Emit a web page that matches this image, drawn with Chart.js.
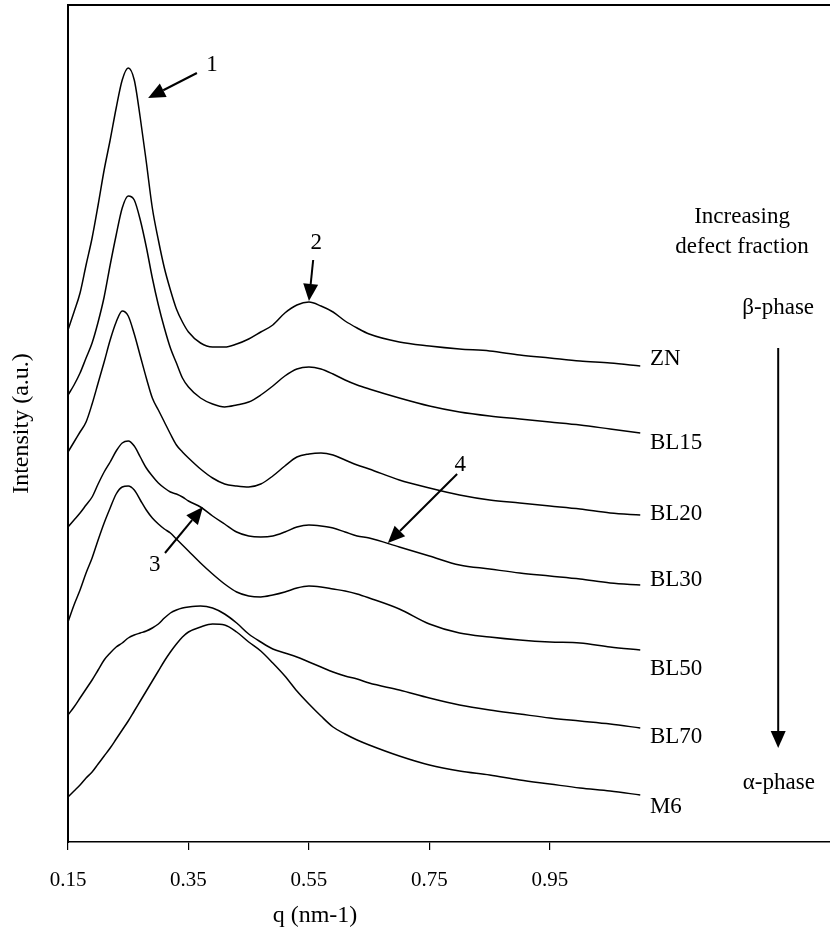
<!DOCTYPE html>
<html>
<head>
<meta charset="utf-8">
<script src="https://cdn.jsdelivr.net/npm/chart.js@4.4.1/dist/chart.umd.min.js"></script>
<style>
    html, body { margin: 0; padding: 0; background: #fff; }
    #wrap { width: 830px; height: 928px; }
</style>
</head>
<body>
<div id="wrap"><canvas id="saxs" width="830" height="928"></canvas></div>
<script>
// scattering vector q (nm-1), shared by every curve
const qValues = [
    0.15, 0.16, 0.17, 0.18, 0.19, 0.20, 0.21, 0.22, 0.23, 0.24,
    0.25, 0.26, 0.27, 0.28, 0.29, 0.30, 0.31, 0.32, 0.33, 0.34,
    0.35, 0.37, 0.39, 0.41, 0.43, 0.45, 0.47, 0.49, 0.51, 0.53,
    0.55, 0.57, 0.59, 0.61, 0.63, 0.65, 0.70, 0.75, 0.80, 0.85,
    0.90, 0.95, 1.00, 1.05, 1.10,
];

// intensities (a.u.), already shifted vertically as in the figure
const znIntensity = [
    512, 530, 549, 577, 604, 637, 672, 702, 734, 762,
    774, 762, 724, 680, 634, 602, 574, 552, 533, 520,
    510, 499, 495, 495, 498, 503, 510, 517, 529, 537,
    540, 536, 530, 521, 514, 508, 500, 496, 493, 491,
    487, 484, 481, 479, 476,
];
const bl15Intensity = [
    447, 457, 469, 484, 499, 520, 545, 577, 607, 634,
    646, 642, 622, 595, 564, 537, 514, 494, 479, 464,
    455, 444, 438, 435, 437, 440, 447, 456, 466, 473,
    475, 473, 468, 462, 457, 453, 444, 436, 430, 426,
    423, 420, 417, 413, 409,
];
const bl20Intensity = [
    390, 400, 410, 420, 438, 459, 480, 502, 520, 531,
    526, 508, 486, 464, 444, 432, 420, 408, 397, 390,
    384, 373, 364, 358, 356, 355, 358, 366, 376, 385,
    388, 389, 387, 382, 377, 373, 362, 354, 347, 342,
    339, 336, 333, 329, 327,
];
const bl30Intensity = [
    315, 322, 329, 337, 345, 358, 370, 380, 391, 399,
    401, 396, 385, 374, 366, 359, 354, 350, 348, 345,
    341, 335, 326, 318, 310, 306, 305, 306, 310, 315,
    317, 316, 314, 310, 306, 304, 295, 286, 277, 273,
    269, 266, 263, 259, 257,
];
const bl50Intensity = [
    220, 237, 252, 269, 284, 302, 319, 334, 348, 355,
    356, 352, 342, 332, 324, 318, 313, 309, 303, 297,
    291, 279, 268, 258, 250, 246, 245, 247, 250, 254,
    256, 255, 253, 251, 248, 244, 233, 218, 209, 205,
    202, 200, 199, 195, 192,
];
const bl70Intensity = [
    127, 135, 144, 153, 162, 172, 182, 189, 195, 199,
    204, 207, 209, 211, 214, 218, 224, 229, 232, 234,
    235, 236, 234, 228, 219, 208, 200, 193, 189, 185,
    180, 175, 170, 166, 163, 159, 152, 144, 137, 132,
    128, 124, 121, 118, 114,
];
const m6Intensity = [
    45, 51, 57, 64, 70, 78, 86, 94, 103, 112,
    121, 131, 141, 151, 161, 171, 181, 190, 198, 205,
    210, 215, 218, 217, 210, 200, 191, 179, 166, 151,
    138, 126, 115, 108, 102, 97, 86, 77, 71, 67,
    62, 58, 54, 51, 47,
];

const sampleNames = ['ZN', 'BL15', 'BL20', 'BL30', 'BL50', 'BL70', 'M6'];
const sampleSeries = [znIntensity, bl15Intensity, bl20Intensity, bl30Intensity,
    bl50Intensity, bl70Intensity, m6Intensity];
const xTickValues = [0.15, 0.35, 0.55, 0.75, 0.95];

const FONT = '"Liberation Serif", "Times New Roman", serif';

// labels and arrows drawn on top, placed in data units (q, intensity)
const curveLabels = [
    { text: 'ZN', q: 1.116, y: 483 },
    { text: 'BL15', q: 1.116, y: 399 },
    { text: 'BL20', q: 1.116, y: 328 },
    { text: 'BL30', q: 1.116, y: 262 },
    { text: 'BL50', q: 1.116, y: 173 },
    { text: 'BL70', q: 1.116, y: 105 },
    { text: 'M6', q: 1.116, y: 35 },
];
const noteTexts = [
    { text: '1', q: 0.389, y: 777 },
    { text: '2', q: 0.562, y: 599 },
    { text: '3', q: 0.294, y: 277 },
    { text: '4', q: 0.801, y: 377 },
    { text: 'Increasing', q: 1.269, y: 625 },
    { text: 'defect fraction', q: 1.269, y: 595 },
    { text: '\u03b2-phase', q: 1.329, y: 534 },
    { text: '\u03b1-phase', q: 1.330, y: 59 },
];
const noteArrows = [
    { from: [0.364, 769], to: [0.283, 744] },
    { from: [0.557, 582], to: [0.550, 541] },
    { from: [0.311, 289], to: [0.374, 335] },
    { from: [0.796, 368], to: [0.681, 299] },
    { from: [1.329, 494], to: [1.329, 94] },
];
const xTitle = { text: 'q (nm-1)', q: 0.56 };

function drawArrow(ctx, x1, y1, x2, y2) {
    const ang = Math.atan2(y2 - y1, x2 - x1);
    const len = 17, half = 7.5;
    const bx = x2 - len * Math.cos(ang);
    const by = y2 - len * Math.sin(ang);
    ctx.beginPath();
    ctx.moveTo(x1, y1);
    ctx.lineTo(bx, by);
    ctx.stroke();
    ctx.beginPath();
    ctx.moveTo(x2, y2);
    ctx.lineTo(bx - half * Math.sin(ang), by + half * Math.cos(ang));
    ctx.lineTo(bx + half * Math.sin(ang), by - half * Math.cos(ang));
    ctx.closePath();
    ctx.fill();
}

const figureNotes = {
    id: 'figureNotes',
    afterDraw(chart) {
        const { ctx, chartArea, scales } = chart;
        const xs = scales.x, ys = scales.y;
        ctx.save();
        // top frame line
        ctx.strokeStyle = '#000';
        ctx.lineWidth = 2;
        ctx.beginPath();
        ctx.moveTo(chartArea.left - 1, chartArea.top);
        ctx.lineTo(chartArea.right, chartArea.top);
        ctx.stroke();

        ctx.fillStyle = '#000';
        ctx.font = '23px ' + FONT;
        ctx.textBaseline = 'middle';
        ctx.textAlign = 'left';
        curveLabels.forEach(l => {
            ctx.fillText(l.text, xs.getPixelForValue(l.q), ys.getPixelForValue(l.y));
        });
        ctx.textAlign = 'center';
        noteTexts.forEach(t => {
            ctx.fillText(t.text, xs.getPixelForValue(t.q), ys.getPixelForValue(t.y));
        });

        // x axis title sits under the labelled part of the axis
        ctx.font = '24px ' + FONT;
        ctx.fillText(xTitle.text, xs.getPixelForValue(xTitle.q), xs.bottom - 12);

        ctx.lineWidth = 2;
        noteArrows.forEach(a => {
            drawArrow(ctx,
                xs.getPixelForValue(a.from[0]), ys.getPixelForValue(a.from[1]),
                xs.getPixelForValue(a.to[0]), ys.getPixelForValue(a.to[1]));
        });
        ctx.restore();
    },
};

const datasets = sampleSeries.map((values, k) => ({
    label: sampleNames[k],
    data: qValues.map((q, i) => ({ x: q, y: values[i] })),
    borderColor: '#000',
    borderWidth: 1.5,
    pointRadius: 0,
    cubicInterpolationMode: 'monotone',
    fill: false,
}));

new Chart(document.getElementById('saxs').getContext('2d'), {
    type: 'line',
    data: { datasets },
    options: {
        responsive: false,
        animation: false,
        devicePixelRatio: 1,
        layout: { padding: { left: 5, top: 5, right: 0, bottom: 0 } },
        plugins: { legend: { display: false }, tooltip: { enabled: false } },
        scales: {
            x: {
                type: 'linear',
                min: 0.15,
                max: 1.415,
                afterBuildTicks: s => { s.ticks = xTickValues.map(v => ({ value: v })); },
                afterFit: s => { s.height = 86; },
                ticks: {
                    color: '#000',
                    font: { family: FONT, size: 21 },
                    padding: 18,
                    maxRotation: 0,
                    autoSkip: false,
                    callback: v => Number(v).toFixed(2),
                },
                grid: { display: true, drawOnChartArea: false, drawTicks: true, tickLength: 8, color: '#000', lineWidth: 1.2 },
                border: { color: '#000', width: 1.5 },
                title: { display: false },
            },
            y: {
                type: 'linear',
                min: 0,
                max: 837,
                afterFit: s => { s.width = 63; },
                ticks: { display: false },
                grid: { display: false },
                border: { color: '#000', width: 2 },
                title: { display: true, text: 'Intensity (a.u.)', color: '#000', font: { family: FONT, size: 24 }, padding: { top: 2, bottom: 2 } },
            },
        },
    },
    plugins: [figureNotes],
});
</script>
</body>
</html>
